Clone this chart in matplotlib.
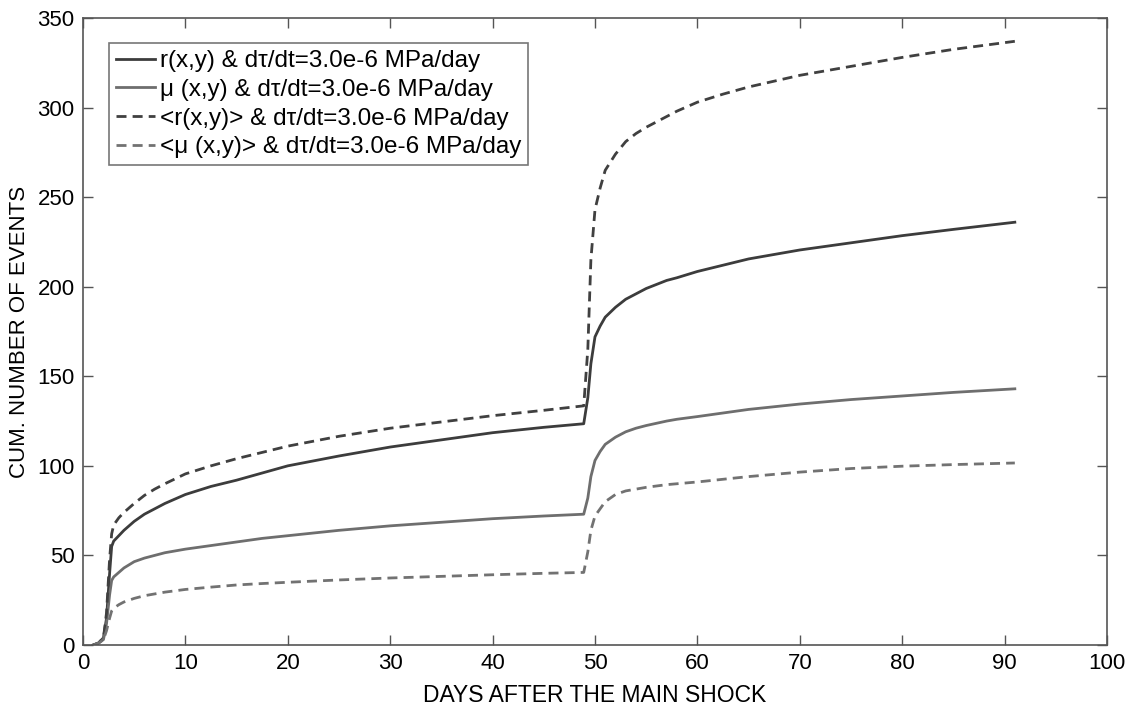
import numpy as np
import matplotlib.pyplot as plt

plt.rcParams["font.family"] = ["Liberation Sans", "DejaVu Sans"]

# days after main shock (shared grid, dense around the onset and the second shock)
days = [1, 1.5, 2, 2.3, 2.6, 2.8, 3, 3.5, 4, 5, 6, 7, 8, 10, 12.5, 15, 17.5, 20,
        25, 30, 35, 40, 45, 48.9, 49.3, 49.6, 50, 50.5, 51, 52, 53, 54, 55, 57,
        58, 60, 62.5, 65, 70, 75, 80, 85, 91]

r_solid = [0, 1, 4, 15, 40, 55, 58, 61, 64, 69, 73, 76, 79, 84, 88.5, 92, 96, 100,
           105.5, 110.5, 114.5, 118.5, 121.5, 123.5, 138, 157, 172, 178, 183,
           188.5, 193, 196, 199, 203.5, 205, 208.5, 212, 215.5, 220.5, 224.5,
           228.5, 232, 236]
mu_solid = [0, 1, 3, 12, 28, 36, 38, 40.5, 43, 46.5, 48.5, 50, 51.5, 53.5, 55.5,
            57.5, 59.5, 61, 64, 66.5, 68.5, 70.5, 72, 73, 82, 94, 103, 108, 112,
            116, 119, 121, 122.5, 125, 126, 127.5, 129.5, 131.5, 134.5, 137, 139,
            141, 143]
r_mean = [0, 1, 4, 18, 48, 62, 67, 71, 74, 79, 83.5, 87, 90, 95.5, 100, 104, 107.5,
          111, 116.5, 121, 124.5, 128, 131, 133.5, 165, 215, 243, 255, 265, 274,
          281, 285.5, 289, 295, 298, 303, 307.5, 311.5, 318, 323, 328, 332.5, 337]
mu_mean = [0, 1, 3, 8, 15, 19, 20.5, 22.5, 24, 26, 27.5, 28.5, 29.5, 31, 32.3,
           33.5, 34.3, 35, 36.3, 37.4, 38.3, 39.2, 40, 40.5, 52, 64, 72, 76, 80,
           84, 86, 87, 88, 89.5, 90, 91, 92.5, 94, 96.5, 98.5, 99.8, 100.7, 101.6]

labels = [
    "r(x,y) & d\u03c4/dt=3.0e-6 MPa/day",
    "\u03bc (x,y) & d\u03c4/dt=3.0e-6 MPa/day",
    "<r(x,y)> & d\u03c4/dt=3.0e-6 MPa/day",
    "<\u03bc (x,y)> & d\u03c4/dt=3.0e-6 MPa/day",
]

fig = plt.figure(figsize=(11.29, 7.09), dpi=100)
ax = fig.add_axes([0.0735, 0.0903, 0.907, 0.8843])

ax.plot(days, r_solid, color="#3c3c3c", lw=2.0, label=labels[0])
ax.plot(days, mu_solid, color="#6e6e6e", lw=2.0, label=labels[1])
ax.plot(days, r_mean, color="#404040", lw=2.0, dashes=(3.6, 2.2), label=labels[2])
ax.plot(days, mu_mean, color="#727272", lw=2.0, dashes=(3.6, 2.2), label=labels[3])

ax.set_xlim(0, 100)
ax.set_ylim(0, 350)
ax.set_xticks(np.arange(0, 101, 10))
ax.set_yticks(np.arange(0, 351, 50))
ax.tick_params(direction="in", length=7, width=1, top=True, right=True,
               labelsize=16, pad=6, color="#555555")
for sp in ax.spines.values():
    sp.set_color("#555555")
    sp.set_linewidth(1.2)

ax.set_xlabel("DAYS AFTER THE MAIN SHOCK", fontsize=16.5, labelpad=7)
ax.set_ylabel("CUM. NUMBER OF EVENTS", fontsize=16, labelpad=5)

leg = ax.legend(loc="upper left", bbox_to_anchor=(0.025, 0.96), fontsize=17.5,
                frameon=True, fancybox=False, edgecolor="#555555",
                handlelength=1.6, handletextpad=0.2, borderpad=0.3,
                labelspacing=0.27, borderaxespad=0)
leg.get_frame().set_linewidth(1.2)

fig.savefig("out.png", dpi=100)
